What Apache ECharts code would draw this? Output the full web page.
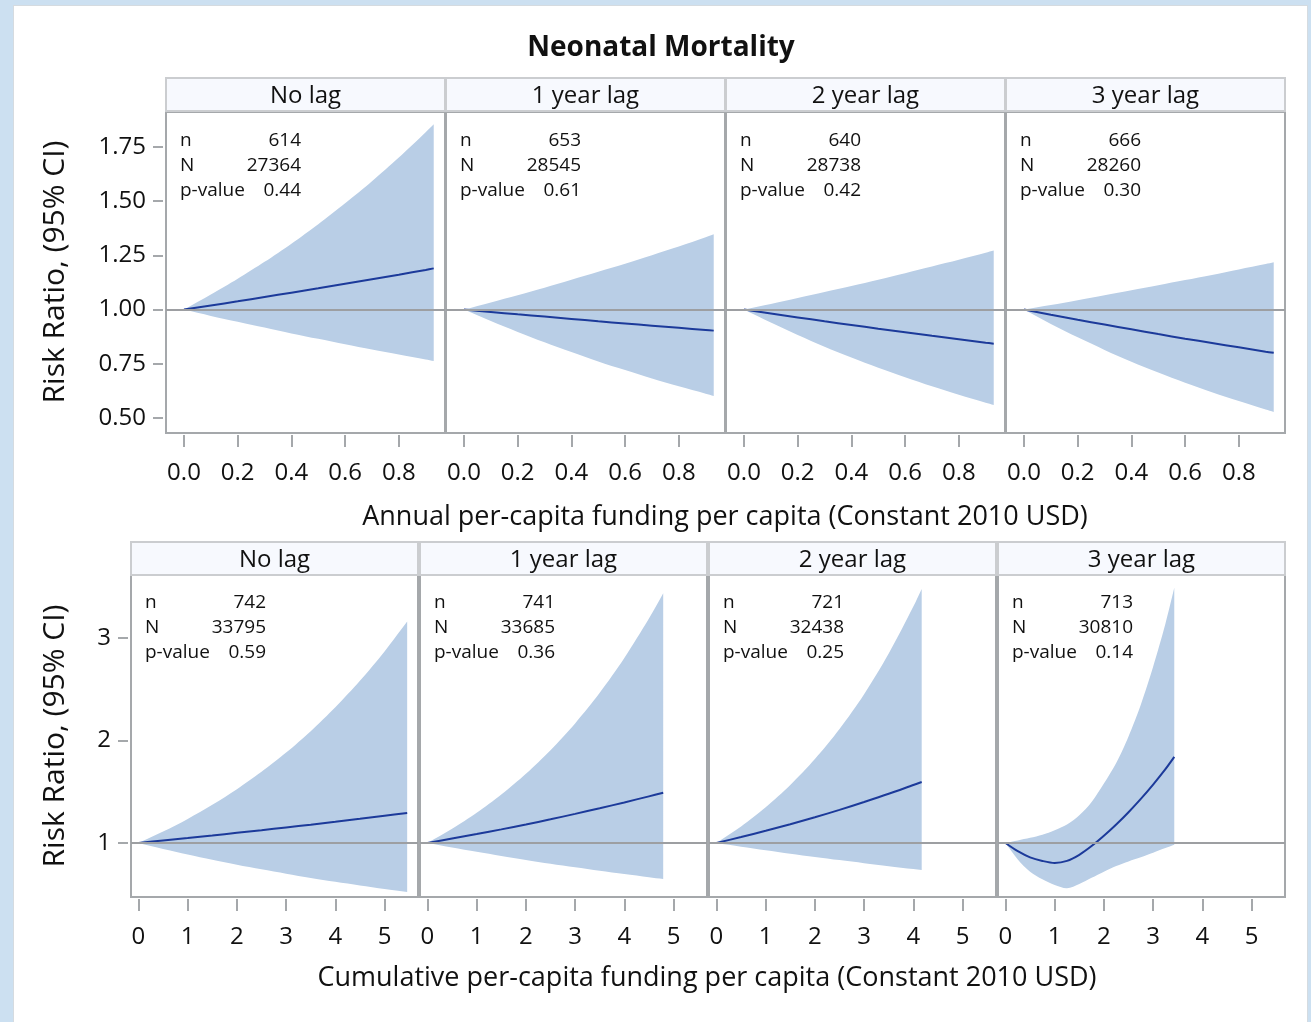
<!DOCTYPE html>
<html>
<head>
<meta charset="utf-8">
<title>Neonatal Mortality</title>
<script src="https://cdn.jsdelivr.net/npm/echarts@6/dist/echarts.min.js"></script>
<style>
  html, body { margin: 0; padding: 0; background: #cce0f1; }
  #chart { position: absolute; left: 14px; top: 6px; width: 1293px; height: 1016px; background: #fff; box-shadow: 0 0 0 1px #d5dbe0; }
</style>
</head>
<body>
<div id="chart"></div>
<script>
// panel labels and stats
var lagLabels = ['No lag', '1 year lag', '2 year lag', '3 year lag'];
var statLabels = ['n', 'N', 'p-value'];
var annualN = [614, 653, 640, 666];
var annualTotal = [27364, 28545, 28738, 28260];
var annualP = ['0.44', '0.61', '0.42', '0.30'];
var cumN = [742, 741, 721, 713];
var cumTotal = [33795, 33685, 32438, 30810];
var cumP = ['0.59', '0.36', '0.25', '0.14'];

// tick values
var annualTicksX = [0, 0.2, 0.4, 0.6, 0.8];
var annualTicksY = [0.5, 0.75, 1, 1.25, 1.5, 1.75];
var cumTicksX = [0, 1, 2, 3, 4, 5];
var cumTicksY = [1, 2, 3];

// annual funding (top row), one inner array per lag
var annualX = [0, 0.1, 0.2, 0.3, 0.4, 0.5, 0.6, 0.7, 0.8, 0.9, 0.93];
var annualFit = [
    [1, 1.019, 1.038, 1.058, 1.078, 1.098, 1.119, 1.140, 1.161, 1.183, 1.190],
    [1, 0.989, 0.978, 0.968, 0.957, 0.946, 0.936, 0.926, 0.916, 0.906, 0.903],
    [1, 0.982, 0.964, 0.946, 0.929, 0.912, 0.896, 0.879, 0.863, 0.847, 0.843],
    [1, 0.976, 0.953, 0.931, 0.909, 0.887, 0.866, 0.846, 0.826, 0.806, 0.801]
];
var annualUpper = [
    [1, 1.069, 1.142, 1.220, 1.304, 1.394, 1.490, 1.592, 1.701, 1.818, 1.854],
    [1, 1.033, 1.066, 1.101, 1.137, 1.174, 1.211, 1.251, 1.291, 1.334, 1.347],
    [1, 1.026, 1.053, 1.081, 1.109, 1.138, 1.168, 1.199, 1.230, 1.262, 1.272],
    [1, 1.021, 1.043, 1.066, 1.089, 1.112, 1.136, 1.160, 1.185, 1.210, 1.218]
];
var annualLower = [
    [1, 0.971, 0.944, 0.917, 0.890, 0.865, 0.840, 0.816, 0.793, 0.770, 0.763],
    [1, 0.947, 0.897, 0.849, 0.804, 0.761, 0.721, 0.682, 0.646, 0.612, 0.602],
    [1, 0.940, 0.883, 0.829, 0.779, 0.732, 0.688, 0.646, 0.607, 0.570, 0.560],
    [1, 0.934, 0.872, 0.814, 0.760, 0.710, 0.663, 0.619, 0.578, 0.539, 0.528]
];

// cumulative funding (bottom row)
var cumX = [
    [0, 0.5, 1, 1.5, 2, 2.5, 3, 3.5, 4, 4.5, 5, 5.46],
    [0, 0.5, 1, 1.5, 2, 2.5, 3, 3.5, 4, 4.5, 4.79],
    [0, 0.5, 1, 1.5, 2, 2.5, 3, 3.5, 4, 4.17],
    [0, 0.25, 0.5, 0.75, 1, 1.25, 1.5, 1.75, 2, 2.25, 2.5, 2.75, 3, 3.25, 3.43]
];
var cumFit = [
    [1, 1.024, 1.048, 1.073, 1.099, 1.125, 1.152, 1.179, 1.207, 1.236, 1.266, 1.293],
    [1, 1.043, 1.087, 1.133, 1.181, 1.231, 1.284, 1.339, 1.396, 1.455, 1.490],
    [1, 1.058, 1.119, 1.183, 1.251, 1.323, 1.400, 1.480, 1.566, 1.595],
    [1, 0.92, 0.86, 0.825, 0.805, 0.825, 0.885, 0.97, 1.07, 1.18, 1.30, 1.43, 1.57, 1.72, 1.84]
];
var cumUpper = [
    [1, 1.111, 1.235, 1.372, 1.524, 1.694, 1.882, 2.091, 2.324, 2.582, 2.869, 3.161],
    [1, 1.138, 1.294, 1.472, 1.675, 1.905, 2.167, 2.465, 2.805, 3.190, 3.438],
    [1, 1.161, 1.349, 1.566, 1.819, 2.112, 2.452, 2.848, 3.307, 3.479],
    [1, 1.025, 1.05, 1.08, 1.125, 1.18, 1.27, 1.40, 1.58, 1.78, 2.04, 2.35, 2.72, 3.14, 3.49]
];
var cumLower = [
    [1, 0.942, 0.888, 0.837, 0.788, 0.743, 0.700, 0.659, 0.621, 0.585, 0.551, 0.522],
    [1, 0.956, 0.914, 0.873, 0.835, 0.798, 0.763, 0.729, 0.697, 0.666, 0.649],
    [1, 0.964, 0.930, 0.896, 0.864, 0.833, 0.803, 0.774, 0.746, 0.737],
    [1, 0.84, 0.72, 0.645, 0.59, 0.558, 0.60, 0.66, 0.72, 0.775, 0.82, 0.86, 0.905, 0.95, 0.983]
];

var OX = 14, OY = 6; // chart div offset inside the page
var FONT = '"Open Sans", "Noto Sans", sans-serif';
var BAND = '#b9cee6', FIT = '#1c3a9a', FRAME = '#a5a8ab', REF = '#9d9fa2', TEXT = '#111';

var rows = [{
    lefts: [166, 446, 726, 1006], width: 279, top: 112, height: 321, headTop: 78, statTop: 141,
    xMin: -0.067, xMax: 0.972, yMin: 0.431, yMax: 1.911,
    xTicks: annualTicksX, yTicks: annualTicksY, xDigits: 1, yDigits: 2,
    xs: [annualX, annualX, annualX, annualX], fit: annualFit, upper: annualUpper, lower: annualLower,
    n: annualN, N: annualTotal, p: annualP
}, {
    lefts: [131, 420, 709, 998], width: 287, top: 575, height: 322, headTop: 542, statTop: 603,
    xMin: -0.152, xMax: 5.68, yMin: 0.473, yMax: 3.615,
    xTicks: cumTicksX, yTicks: cumTicksY, xDigits: 0, yDigits: 0,
    xs: cumX, fit: cumFit, upper: cumUpper, lower: cumLower,
    n: cumN, N: cumTotal, p: cumP
}];

function pairs(xs, ys) {
    return xs.map(function (x, i) { return [x, ys[i]]; });
}

// CI band as one smoothed polygon: upper edge forward, lower edge back.
// The right-hand end points are doubled so the vertical edge stays sharp.
function bandRenderer(upperPts, lowerPts) {
    var back = lowerPts.slice().reverse();
    var ring = upperPts.concat([upperPts[upperPts.length - 1], back[0]], back);
    return function (params, api) {
        return {
            type: 'polygon',
            shape: { points: ring.map(function (p) { return api.coord(p); }), smooth: 0.3 },
            style: { fill: BAND }
        };
    };
}

var grids = [], xAxes = [], yAxes = [], series = [], graphics = [];

rows.forEach(function (row, r) {
    row.lefts.forEach(function (left, c) {
        var k = r * 4 + c;
        var xs = row.xs[c];
        grids.push({
            left: left - OX, top: row.top - OY, width: row.width, height: row.height,
            show: true, borderColor: FRAME, borderWidth: 2, backgroundColor: 'transparent'
        });
        xAxes.push({
            type: 'value', gridIndex: k, min: row.xMin, max: row.xMax, position: 'bottom', offset: 2,
            axisLine: { show: false, onZero: false }, splitLine: { show: false },
            axisTick: { show: true, length: 12, customValues: row.xTicks, lineStyle: { color: FRAME, width: 2 } },
            axisLabel: {
                customValues: row.xTicks, margin: 26, fontSize: 24, fontFamily: FONT, color: TEXT,
                formatter: (function (d) { return function (v) { return v.toFixed(d); }; })(row.xDigits)
            }
        });
        yAxes.push({
            type: 'value', gridIndex: k, min: row.yMin, max: row.yMax, show: c === 0, position: 'left', offset: 3,
            axisLine: { show: false, onZero: false }, splitLine: { show: false },
            axisTick: { show: true, length: 10, customValues: row.yTicks, lineStyle: { color: FRAME, width: 2 } },
            axisLabel: {
                customValues: row.yTicks, margin: 17, fontSize: 24, fontFamily: FONT, color: TEXT,
                formatter: (function (d) { return function (v) { return v.toFixed(d); }; })(row.yDigits)
            }
        });

        series.push({
            type: 'custom', xAxisIndex: k, yAxisIndex: k, silent: true, z: 1,
            data: [[0, 1]],
            renderItem: bandRenderer(pairs(xs, row.upper[c]), pairs(xs, row.lower[c]))
        });
        series.push({
            type: 'line', xAxisIndex: k, yAxisIndex: k, data: [], silent: true, z: 3,
            markLine: {
                silent: true, symbol: ['none', 'none'], label: { show: false }, animation: false,
                lineStyle: { color: REF, width: 2, type: 'solid' },
                data: [{ yAxis: 1 }]
            }
        });
        series.push({
            type: 'line', xAxisIndex: k, yAxisIndex: k, data: pairs(xs, row.fit[c]), silent: true,
            symbol: 'none', smooth: 0.3, lineStyle: { color: FIT, width: 2 }, z: 4
        });

        // header strip
        graphics.push({
            type: 'rect', shape: { x: left - OX, y: row.headTop - OY, width: row.width, height: 33 },
            style: { fill: '#f7f9fe', stroke: '#cbcdd0', lineWidth: 2 }
        });
        graphics.push({
            type: 'text',
            style: {
                text: lagLabels[c], x: left - OX + row.width / 2, y: row.headTop - OY + 18,
                textAlign: 'center', textVerticalAlign: 'middle', fontSize: 24, fontFamily: FONT, fill: TEXT
            }
        });
        // inset stats
        var vals = [row.n[c], row.N[c], row.p[c]];
        statLabels.forEach(function (lab, i) {
            var y = row.statTop - OY + i * 25;
            graphics.push({
                type: 'text', z: 10,
                style: { text: lab, x: left - OX + 14, y: y, textAlign: 'left', textVerticalAlign: 'middle', fontSize: 19, fontFamily: FONT, fill: TEXT }
            });
            graphics.push({
                type: 'text', z: 10,
                style: { text: String(vals[i]), x: left - OX + 135, y: y, textAlign: 'right', textVerticalAlign: 'middle', fontSize: 19, fontFamily: FONT, fill: TEXT }
            });
        });
    });
});

// titles
graphics.push({
    type: 'text',
    style: { text: 'Neonatal Mortality', x: 661 - OX, y: 48 - OY, textAlign: 'center', textVerticalAlign: 'middle', fontSize: 28, fontWeight: 'bold', fontFamily: FONT, fill: TEXT }
});
graphics.push({
    type: 'text',
    style: { text: 'Annual per-capita funding per capita (Constant 2010 USD)', x: 725 - OX, y: 517 - OY, textAlign: 'center', textVerticalAlign: 'middle', fontSize: 27, fontFamily: FONT, fill: TEXT }
});
graphics.push({
    type: 'text',
    style: { text: 'Cumulative per-capita funding per capita (Constant 2010 USD)', x: 707 - OX, y: 978 - OY, textAlign: 'center', textVerticalAlign: 'middle', fontSize: 27, fontFamily: FONT, fill: TEXT }
});
[272, 736].forEach(function (cy) {
    graphics.push({
        type: 'text', x: 55 - OX, y: cy - OY, rotation: Math.PI / 2,
        style: { text: 'Risk Ratio, (95% CI)', x: 0, y: 0, textAlign: 'center', textVerticalAlign: 'middle', fontSize: 30, fontFamily: FONT, fill: TEXT }
    });
});

var chart = echarts.init(document.getElementById('chart'));
chart.setOption({
    animation: false,
    grid: grids,
    xAxis: xAxes,
    yAxis: yAxes,
    series: series,
    graphic: { elements: graphics }
});
</script>
</body>
</html>
